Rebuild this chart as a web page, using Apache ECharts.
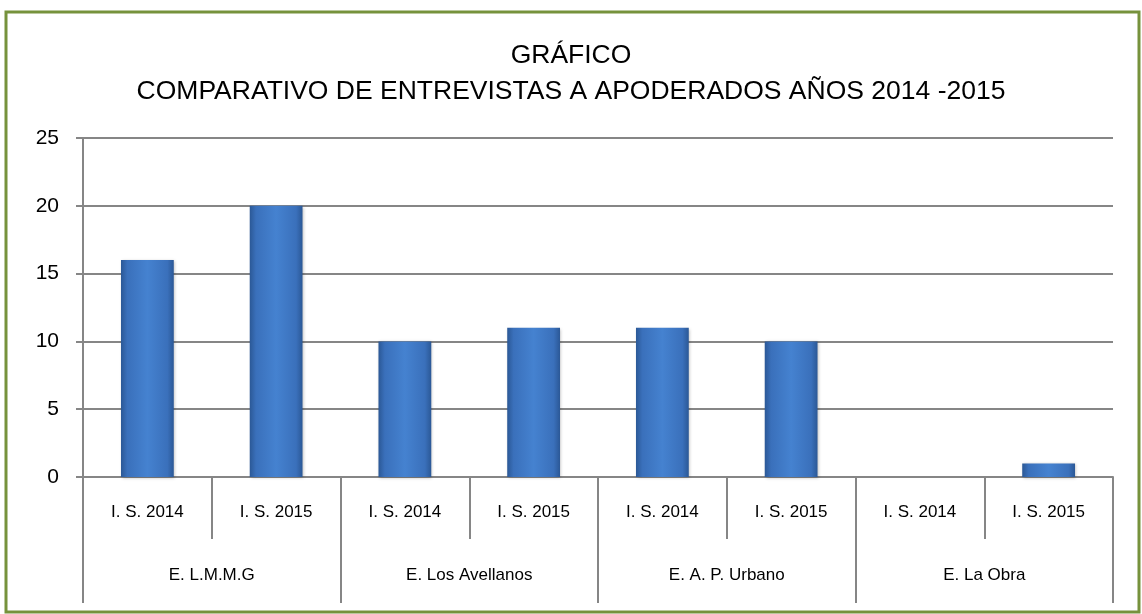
<!DOCTYPE html>
<html>
<head>
<meta charset="utf-8">
<title>Comparativo de entrevistas</title>
<script src="https://cdn.jsdelivr.net/npm/echarts@6/dist/echarts.min.js"></script>
<style>
    html, body { margin: 0; padding: 0; background: #fff; }
    #chart { width: 1142px; height: 614px; }
</style>
</head>
<body>
<div id="chart"></div>
<script>
    // data
    var schools = ['E. L.M.M.G', 'E. Los Avellanos', 'E. A. P. Urbano', 'E. La Obra'];
    var periods = ['I. S. 2014', 'I. S. 2015'];
    var interviews = [16, 20, 10, 11, 11, 10, 0, 1];
    var yTicks = [0, 5, 10, 15, 20, 25];

    var FONT = '"Liberation Sans Narrow", "Arial Narrow", "Liberation Sans", sans-serif';

    var innerLabels = [];
    schools.forEach(function () {
        periods.forEach(function (p) { innerLabels.push(p); });
    });

    var barColor = new echarts.graphic.LinearGradient(0, 0, 1, 0, [
        {offset: 0, color: '#2b5896'},
        {offset: 0.12, color: '#3a70bb'},
        {offset: 0.5, color: '#4582d0'},
        {offset: 0.88, color: '#3a70bb'},
        {offset: 1, color: '#2b5896'}
    ]);

    var chart = echarts.init(document.getElementById('chart'));
    chart.setOption({
        animation: false,
        textStyle: {fontFamily: FONT},
        graphic: [{
            type: 'rect',
            shape: {x: 6, y: 12, width: 1133, height: 600},
            style: {fill: 'none', stroke: '#76923c', lineWidth: 3}
        }],
        title: {
            text: 'GRÁFICO\nCOMPARATIVO DE ENTREVISTAS A APODERADOS AÑOS 2014 -2015',
            left: 'center',
            top: 33,
            textStyle: {fontFamily: FONT, fontSize: 26.5, fontWeight: 'normal', color: '#000', lineHeight: 36}
        },
        grid: {left: 83, right: 29, top: 138, bottom: 137},
        xAxis: [{
            type: 'category',
            data: innerLabels,
            position: 'bottom',
            axisLine: {lineStyle: {color: '#868686', width: 2}},
            axisTick: {show: true, interval: 0, length: 62, lineStyle: {color: '#868686', width: 2}},
            axisLabel: {interval: 0, margin: 27, fontSize: 17, color: '#000', fontFamily: FONT}
        }, {
            type: 'category',
            data: schools,
            position: 'bottom',
            axisLine: {show: false},
            axisTick: {show: true, interval: 0, length: 126, lineStyle: {color: '#868686', width: 2}},
            axisLabel: {interval: 0, margin: 90, fontSize: 17, color: '#000', fontFamily: FONT}
        }],
        yAxis: {
            type: 'value',
            min: yTicks[0],
            max: yTicks[yTicks.length - 1],
            interval: 5,
            axisLine: {show: true, lineStyle: {color: '#868686', width: 2}},
            axisTick: {show: true, length: 7, lineStyle: {color: '#868686', width: 2}},
            axisLabel: {margin: 24, fontSize: 21, color: '#000', fontFamily: FONT},
            splitLine: {lineStyle: {color: '#868686', width: 2}}
        },
        series: [{
            type: 'bar',
            xAxisIndex: 0,
            data: interviews,
            barWidth: '41%',
            itemStyle: {
                color: barColor,
                shadowColor: 'rgba(0,0,0,0.25)',
                shadowBlur: 3,
                shadowOffsetX: 1,
                shadowOffsetY: 1
            }
        }]
    });
</script>
</body>
</html>
